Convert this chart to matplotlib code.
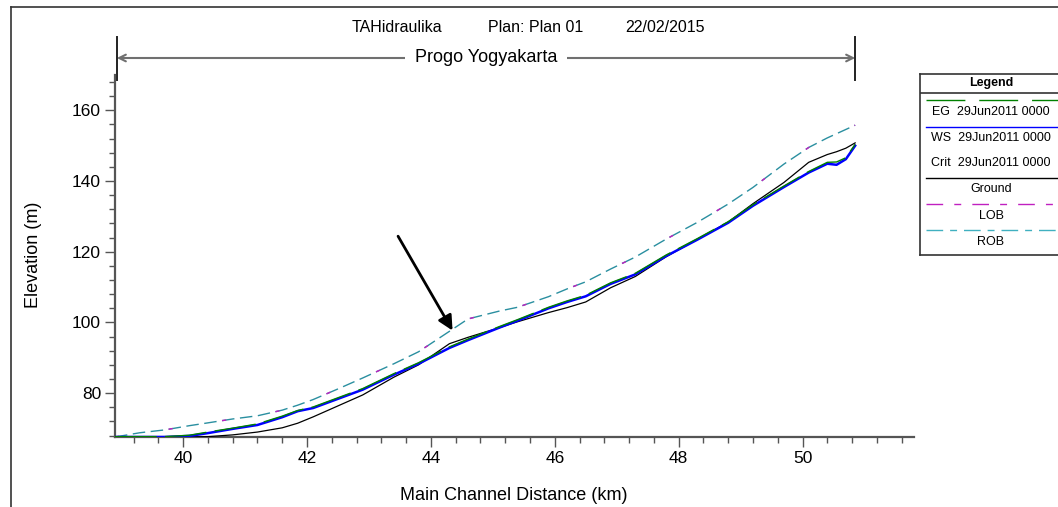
import matplotlib
matplotlib.use("Agg")
import matplotlib.pyplot as plt
from matplotlib.lines import Line2D
import matplotlib.transforms as mtransforms

plt.rcParams['font.family'] = ['Liberation Sans', 'DejaVu Sans']

# ---------------- data ----------------
station_km = [38.9, 39.3, 39.7, 40.1, 40.4, 40.8, 41.2, 41.6, 41.85, 42.1, 42.5, 42.9,
              43.4, 43.8, 44.3, 44.6, 45.1, 45.4, 45.9, 46.2, 46.5, 46.9, 47.3, 47.8,
              48.3, 48.8, 49.2, 49.7, 50.1, 50.4, 50.55, 50.7, 50.85]

ws = [67.6, 67.6, 67.6, 67.9, 68.7, 69.9, 71.0, 73.2, 74.9, 75.8, 78.4, 81.0,
      85.2, 88.3, 92.8, 95.0, 98.5, 100.5, 104.0, 105.8, 107.4, 110.9, 113.6, 118.8,
      123.4, 128.2, 133.0, 138.3, 142.4, 144.9, 144.6, 146.2, 150.0]

eg = [67.7, 67.7, 67.7, 68.1, 69.0, 70.1, 71.3, 73.5, 75.1, 76.1, 78.7, 81.3,
      85.5, 88.6, 93.1, 95.3, 98.8, 100.8, 104.3, 106.1, 107.7, 111.2, 113.9, 119.1,
      123.7, 128.5, 133.3, 138.6, 142.7, 145.3, 145.4, 146.6, 150.4]

ground = [67.6, 67.6, 67.6, 67.6, 67.7, 68.2, 69.0, 70.2, 71.5, 73.3, 76.4, 79.5,
          84.5, 88.0, 94.0, 95.8, 98.5, 100.2, 102.8, 104.2, 105.8, 109.8, 113.0, 118.6,
          123.5, 128.4, 133.6, 139.6, 145.3, 147.5, 148.3, 149.3, 150.8]

lob = [67.6, 68.8, 69.6, 70.8, 71.6, 72.7, 73.6, 75.2, 76.6, 78.2, 81.2, 84.3,
       88.3, 91.7, 97.5, 101.0, 103.2, 104.3, 107.3, 109.5, 111.5, 115.1, 118.5, 123.6,
       128.3, 133.5, 138.2, 144.8, 149.5, 152.2, 153.4, 154.6, 155.8]
rob = list(lob)

x_ticks = [40, 42, 44, 46, 48, 50]
y_ticks = [80, 100, 120, 140, 160]
reach_start, reach_end = 38.93, 50.85
reach_name = "Progo Yogyakarta"
legend_labels = ["EG  29Jun2011 0000", "WS  29Jun2011 0000", "Crit  29Jun2011 0000",
                 "Ground", "LOB", "ROB"]

# ---------------- figure ----------------
W, H = 1058, 507
fig = plt.figure(figsize=(W / 100, H / 100), dpi=100)
ax = fig.add_axes([115 / W, 1 - 437 / H, (914 - 115) / W, (437 - 75) / H])

c_green = '#008000'
c_blue = '#0000ff'
c_mag = '#c020c0'
c_teal = '#2a8fa0'

ax.plot(station_km, ground, color='black', lw=0.9, zorder=3)
ax.plot(station_km, ws, color=c_blue, lw=1.8, zorder=4)
ax.plot(station_km, eg, color=c_green, lw=1.0, dashes=(30, 6), zorder=5)
ax.plot(station_km, rob, color=c_teal, lw=1.0, dashes=(9, 4), zorder=3)
ax.plot(station_km, lob, color=c_mag, lw=1.0, dashes=(3, 36), dash_capstyle='butt', zorder=3.5)

ax.set_xlim(38.9, 51.8)
ax.set_ylim(67.6, 170)
ax.set_xticks(x_ticks)
ax.set_yticks(y_ticks)
minor_x = [round(38.8 + 0.4 * i, 2) for i in range(1, 33)]
ax.set_xticks([v for v in minor_x if abs(v - round(v / 2) * 2) > 0.01], minor=True)
ax.set_yticks([68 + 4 * i for i in range(0, 26) if (68 + 4 * i) % 20 != 0 and 68 + 4 * i <= 170], minor=True)

for s in ['top', 'right']:
    ax.spines[s].set_visible(False)
for s in ['left', 'bottom']:
    ax.spines[s].set_color('#555555')
    ax.spines[s].set_linewidth(1.6)
ax.tick_params(axis='both', which='major', length=7, width=1.0, color='#555555',
               labelsize=12.5, direction='out', pad=3)
ax.tick_params(axis='both', which='minor', length=4, width=1.0, color='#555555', direction='out')

ax.set_xlabel("Main Channel Distance (km)", fontsize=13)
ax.set_ylabel("Elevation (m)", fontsize=13)
ax.xaxis.set_label_coords((514 - 115) / 799, (437 - 495) / 362)
ax.yaxis.set_label_coords((33 - 115) / 799, (437 - 255) / 362)
ax.xaxis.label.set_va('center')
ax.yaxis.label.set_va('center')

# arrow annotation
ax.annotate("", xy=(44.35, 97.7), xytext=(43.47, 124.4),
            arrowprops=dict(arrowstyle='-|>', lw=2.0, color='black', mutation_scale=22,
                            shrinkA=0, shrinkB=0), zorder=6)

# reach marker above axes
trans = mtransforms.blended_transform_factory(ax.transData, ax.transAxes)
ax_h = 437 - 75
y_line = 1 + (75 - 58) / ax_h
y_bar_top = 1 + (75 - 37) / ax_h
for xv in (reach_start, reach_end):
    ax.add_line(Line2D([xv, xv], [0.985, y_bar_top], transform=trans, color='#222222',
                       lw=1.4, clip_on=False))
ax.annotate("", xy=(reach_start, y_line), xytext=(reach_end, y_line),
            xycoords=trans, textcoords=trans,
            arrowprops=dict(arrowstyle='<->', color='#707070', lw=1.5,
                            shrinkA=0, shrinkB=0, mutation_scale=12))
ax.text(44.89, y_line, reach_name, transform=trans, ha='center', va='center',
        fontsize=13, bbox=dict(facecolor='white', edgecolor='none', pad=7), clip_on=False)

# title
ty = 1 - 27 / H
fig.text(352 / W, ty, "TAHidraulika", ha='left', va='center', fontsize=11.5)
fig.text(488 / W, ty, "Plan: Plan 01", ha='left', va='center', fontsize=11.5)
fig.text(625 / W, ty, "22/02/2015", ha='left', va='center', fontsize=11.5)

# outer frame
fig.add_artist(Line2D([11 / W, 11 / W], [0, 1 - 7 / H], transform=fig.transFigure,
                      color='#333333', lw=1.2))
fig.add_artist(Line2D([11 / W, 1], [1 - 7 / H, 1 - 7 / H], transform=fig.transFigure,
                      color='#333333', lw=1.2))

# legend box
lg = fig.add_axes([920 / W, 1 - 255 / H, 145 / W, (255 - 74) / H])
lg.set_xlim(0, 1)
lg.set_ylim(0, 1)
lg.set_xticks([])
lg.set_yticks([])
for s in lg.spines.values():
    s.set_color('#333333')
    s.set_linewidth(1.2)
lg.axhline(0.895, color='#333333', lw=1.2)
lg.text(0.49, 0.950, "Legend", ha='center', va='center', fontsize=9, fontweight='bold')
text_y = [0.790, 0.646, 0.508, 0.365, 0.215, 0.072]
line_y = [0.856, 0.709, None, 0.425, 0.282, 0.138]
styles = [dict(color=c_green, dashes=(28, 10)), dict(color=c_blue),
          None, dict(color='black'), dict(color=c_mag, dashes=(12, 8, 5, 8)),
          dict(color='#40b0c0', dashes=(12, 5, 5, 5))]
for lab, ty_, ly, st in zip(legend_labels, text_y, line_y, styles):
    lg.text(0.49, ty_, lab, ha='center', va='center', fontsize=9)
    if ly is not None:
        lg.plot([0.04, 1.0], [ly, ly], lw=1.0, **st)

fig.savefig("out.png", dpi=100)
